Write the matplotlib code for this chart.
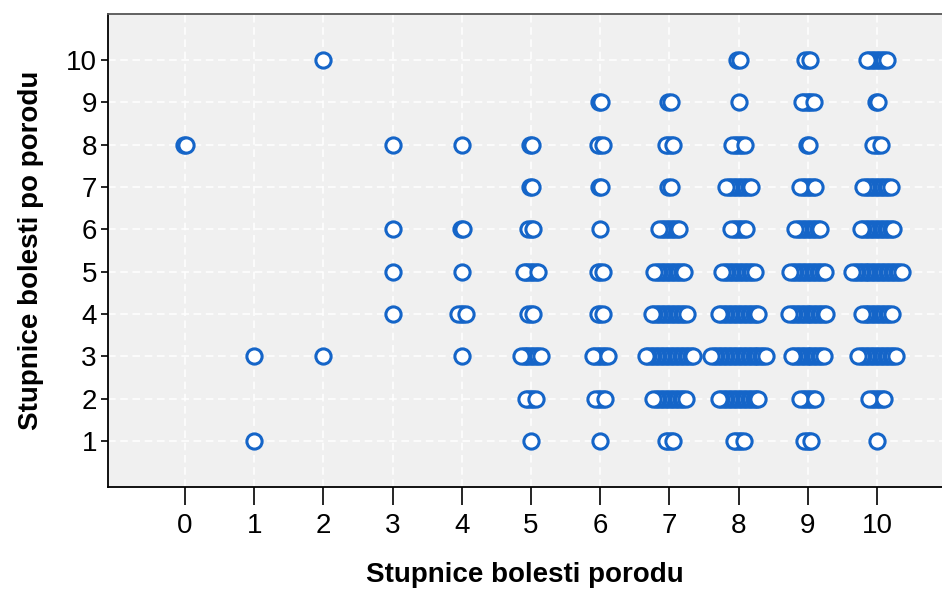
import numpy as np
import matplotlib.pyplot as plt

# pain during delivery (x), pain after delivery (y), number of cases in that cell
pain_during = [0,
               1, 1,
               2, 2,
               3, 3, 3, 3,
               4, 4, 4, 4, 4,
               5, 5, 5, 5, 5, 5, 5, 5,
               6, 6, 6, 6, 6, 6, 6, 6, 6,
               7, 7, 7, 7, 7, 7, 7, 7, 7,
               8, 8, 8, 8, 8, 8, 8, 8, 8, 8,
               9, 9, 9, 9, 9, 9, 9, 9, 9, 9,
               10, 10, 10, 10, 10, 10, 10, 10, 10, 10]
pain_after = [8,
              3, 1,
              10, 3,
              8, 6, 5, 4,
              8, 6, 5, 4, 3,
              8, 7, 6, 5, 4, 3, 2, 1,
              9, 8, 7, 6, 5, 4, 3, 2, 1,
              9, 8, 7, 6, 5, 4, 3, 2, 1,
              10, 9, 8, 7, 6, 5, 4, 3, 2, 1,
              10, 9, 8, 7, 6, 5, 4, 3, 2, 1,
              10, 9, 8, 7, 6, 5, 4, 3, 2, 1]
counts = [2,
          1, 1,
          1, 1,
          1, 1, 1, 1,
          1, 2, 1, 4, 1,
          2, 2, 3, 7, 3, 9, 5, 1,
          2, 3, 2, 1, 3, 3, 7, 5, 1,
          2, 4, 2, 9, 13, 15, 20, 14, 4,
          2, 1, 6, 11, 7, 14, 17, 23, 17, 5,
          3, 6, 2, 7, 11, 15, 16, 14, 7, 4,
          9, 2, 4, 12, 14, 21, 13, 16, 7, 1]

x_ticks = list(range(0, 11))
y_ticks = list(range(1, 11))

blue = '#1565c8'
step = 0.036  # horizontal spread between stacked cases

# spread identical cases side by side, outermost drawn last
xs, ys = [], []
for x, y, n in zip(pain_during, pain_after, counts):
    offs = (np.arange(n) - (n - 1) / 2) * step
    offs = offs[np.argsort(np.abs(offs), kind='stable')]
    xs.extend(x + offs)
    ys.extend([y] * n)

fig = plt.figure(figsize=(9.42, 5.9), dpi=100)
ax = fig.add_axes([108 / 942, 1 - 487 / 590, 834 / 942, 473 / 590])
ax.set_facecolor('#f0f0f0')

ax.scatter(xs, ys, s=120, facecolors='white', edgecolors=blue,
           linewidths=2.2, zorder=3)

ax.set_xlim(-1.113, 10.94)
ax.set_ylim(-0.087, 11.087)
ax.set_xticks(x_ticks)
ax.set_yticks(y_ticks)

ax.grid(True, color='white', linestyle=(0, (5, 3)), linewidth=1.1, zorder=1)
ax.set_axisbelow(True)

for side in ['left', 'bottom']:
    ax.spines[side].set_color('black')
    ax.spines[side].set_linewidth(1.3)
ax.spines['top'].set_color('#555555')
ax.spines['top'].set_linewidth(1.3)
ax.spines['right'].set_visible(False)

tick_font = ['Liberation Sans Narrow', 'DejaVu Sans Condensed', 'Liberation Sans']
ax.tick_params(axis='x', length=13, width=1.2, pad=6, labelsize=20)
ax.tick_params(axis='y', length=5, width=1.2, pad=3, labelsize=20)
for lab in ax.get_xticklabels() + ax.get_yticklabels():
    lab.set_family(tick_font)

ax.set_xlabel('Stupnice bolesti porodu', fontsize=20, fontweight='bold',
              family='Liberation Sans', labelpad=16)
ax.set_ylabel('Stupnice bolesti po porodu', fontsize=20, fontweight='bold',
              family='Liberation Sans', labelpad=16)

fig.savefig('out.png', dpi=100)
